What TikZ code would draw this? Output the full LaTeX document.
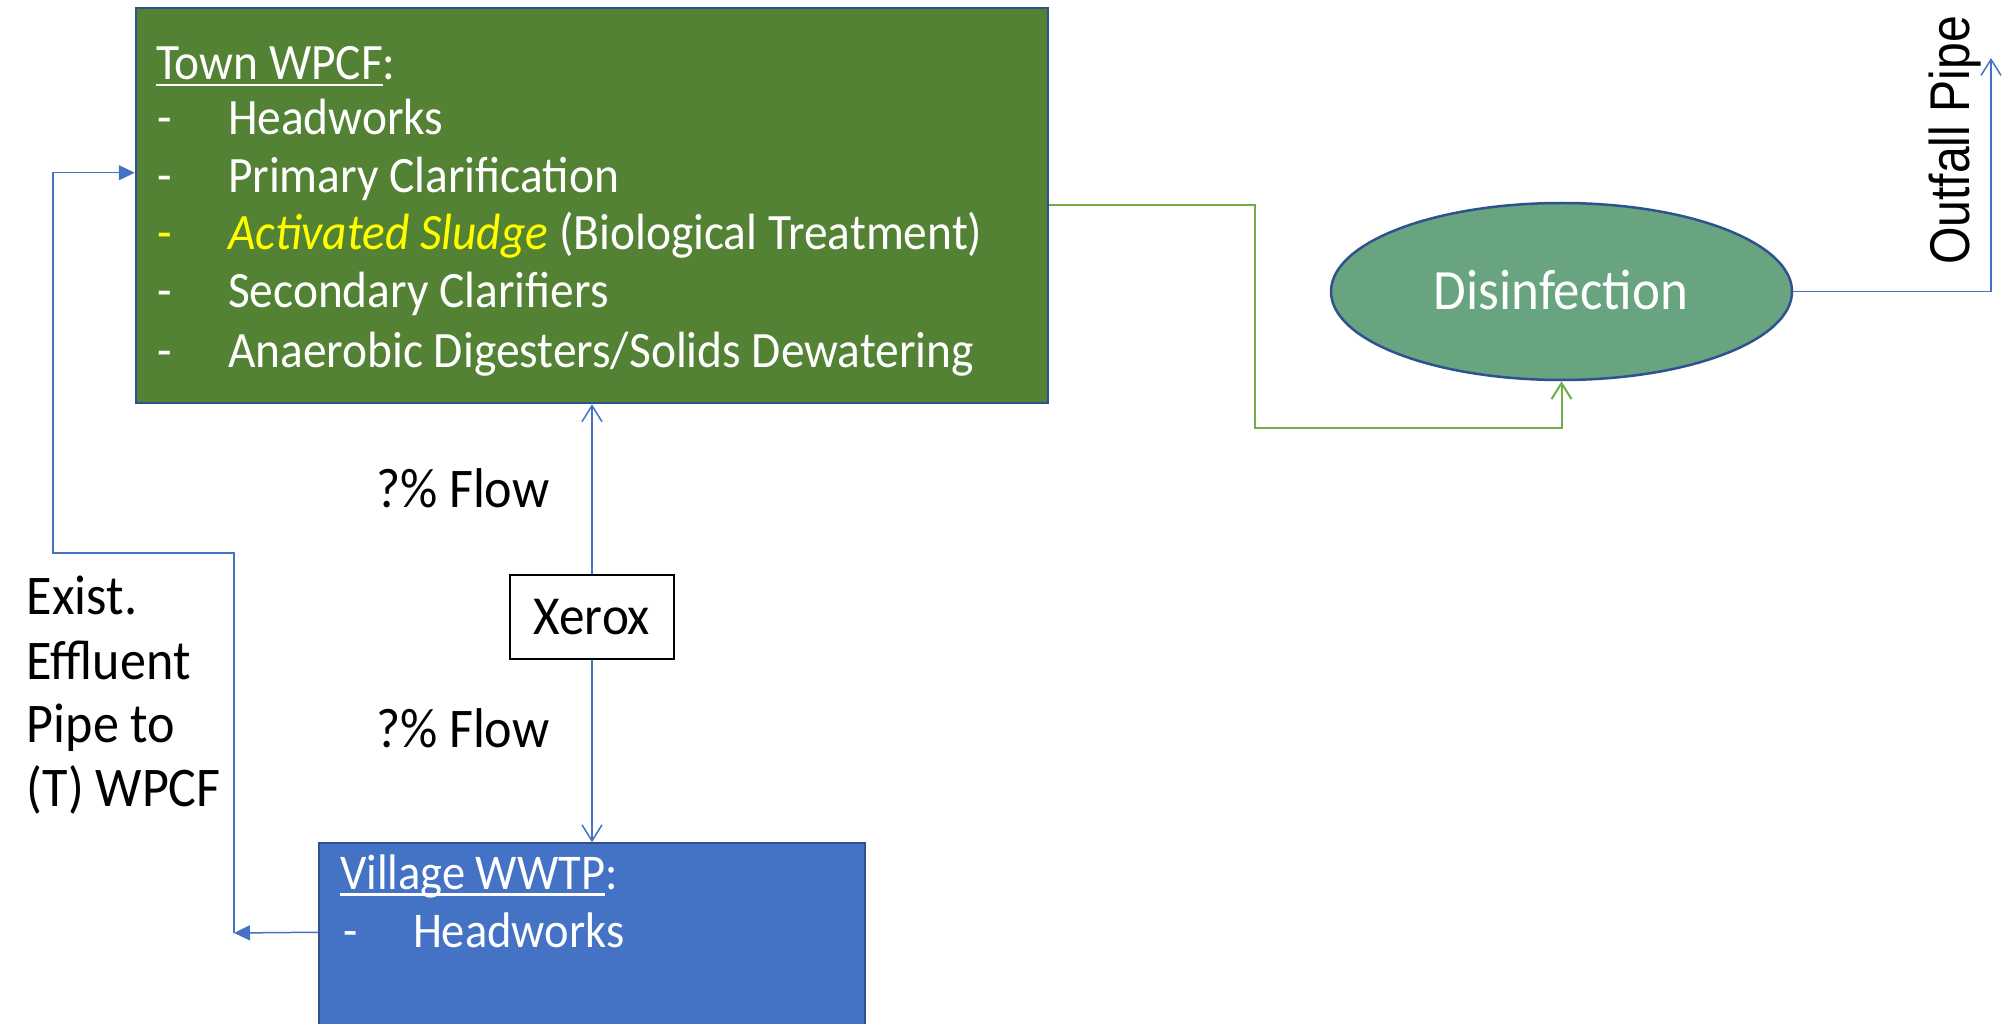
\documentclass[tikz,border=0pt]{standalone}
\usepackage{fontspec}
\setmainfont{Carlito}[FakeStretch=0.93]
\newfontfamily\arialf{Liberation Sans}[FakeStretch=0.86]
\usetikzlibrary{arrows.meta,shapes.geometric,calc}
\definecolor{boxgreen}{HTML}{548235}
\definecolor{edgeblue}{HTML}{2F528F}
\definecolor{lineblue}{HTML}{4472C4}
\definecolor{linegreen}{HTML}{70AD47}
\definecolor{ellgreen}{HTML}{67A47F}
\definecolor{villblue}{HTML}{4472C4}
\definecolor{hiyellow}{HTML}{FFFF00}
\newcommand\myul[1]{\setbox0\hbox{#1}\rlap{\rule[-6.5pt]{\wd0}{2.5pt}}\box0}
\begin{document}
\begin{tikzpicture}[x=1pt,y=-1pt,
 txt/.style={anchor=base west,inner sep=0pt,outer sep=0pt},
 lst/.style={txt,text=white,font=\fontsize{51}{60}\selectfont},
 vlst/.style={txt,text=white,font=\fontsize{50}{60}\selectfont},
 big/.style={txt,text=black,font=\fontsize{56}{66}\selectfont},
 conn/.style={lineblue,line width=1.5pt},
 openvee/.style={-{Straight Barb[length=16pt,width=20pt]}},
 filltip/.style={-{Triangle[length=16pt,width=15pt]}}
]
\useasboundingbox (0,0) rectangle (2011,1024);
\fill[white] (0,0) rectangle (2011,1024);
\begin{scope}
\clip (0,0) rectangle (2011,1024);
% boxes
\node[draw=edgeblue,line width=2.5pt,fill=boxgreen,minimum width=912pt,minimum height=395pt,inner sep=0pt] (wpcf) at (592,205.5) {};
\node[ellipse,draw=edgeblue,line width=2.5pt,fill=ellgreen,minimum width=461pt,minimum height=177pt,inner sep=0pt] (dis) at (1561.5,291.5) {};
\node[draw=black,line width=1.8pt,minimum width=164pt,minimum height=84pt,inner sep=0pt,font=\fontsize{55}{64}\selectfont] (xer) at (592,617) {Xerox};
\node[draw=edgeblue,line width=1.5pt,fill=villblue,minimum width=546pt,minimum height=200pt,inner sep=0pt] (vil) at (592,943) {};
\end{scope}
% Town WPCF text
\node[lst] (wt) at (156,80) {\myul{Town WPCF}:};
\node[lst] (d1) at (157,135) {-};
\node[lst] (h1) at (228,135) {Headworks};
\node[lst] (d2) at (157,193) {-};
\node[lst] (h2) at (228,193) {Primary Clarification};
\node[lst,text=hiyellow] (d3) at (157,250) {-};
\node[lst] (h3) at (228,250) {\textcolor{hiyellow}{\itshape Activated Sludge} (Biological Treatment)};
\node[lst] (d4) at (157,308) {-};
\node[lst] (h4) at (228,308) {Secondary Clarifiers};
\node[lst] (d5) at (157,367) {-};
\node[lst] (h5) at (228,367) {Anaerobic Digesters/Solids Dewatering};
% Disinfection
\node[txt,anchor=base,text=white,font=\fontsize{57}{66}\selectfont] (dt) at (1561,310) {Disinfection};
% Village text
\node[vlst] (vt) at (340,889) {\myul{Village WWTP}:};
\node[vlst] (vd) at (343,947) {-};
\node[vlst] (vh) at (413,947) {Headworks};
% labels
\node[big] (f1) at (376,507) {?\% Flow};
\node[big] (f2) at (376,747) {?\% Flow};
\node[big] (e1) at (27,614) {Exist.};
\node[big] (e2) at (27,679) {Effluent};
\node[big] (e3) at (27,742) {Pipe to};
\node[big] (e4) at (27,806) {(T) WPCF};
\node[txt,rotate=90,font=\arialf\fontsize{56}{62}\selectfont] (op) at (1969,265) {Outfall Pipe};
% connectors
\draw[conn,openvee] (xer.north) -- (wpcf.south);
\draw[conn,openvee] (xer.south) -- (vil.north);
\coordinate (g1) at (1255,428);
\draw[linegreen,line width=2pt,openvee] (wpcf.east) -| (g1) -| (dis.south);
\coordinate (o1) at (1991,58);
\draw[conn,openvee] (dis.east) -| (o1);
\coordinate (c1) at (234,933);
\coordinate (c2) at (53,553);
\draw[conn,filltip] ($(vil.north west)+(0,90)$) -- (c1);
\draw[conn,filltip] (c1) |- (c2) |- ($(wpcf.north west)+(0,166)$);
\end{tikzpicture}
\end{document}
